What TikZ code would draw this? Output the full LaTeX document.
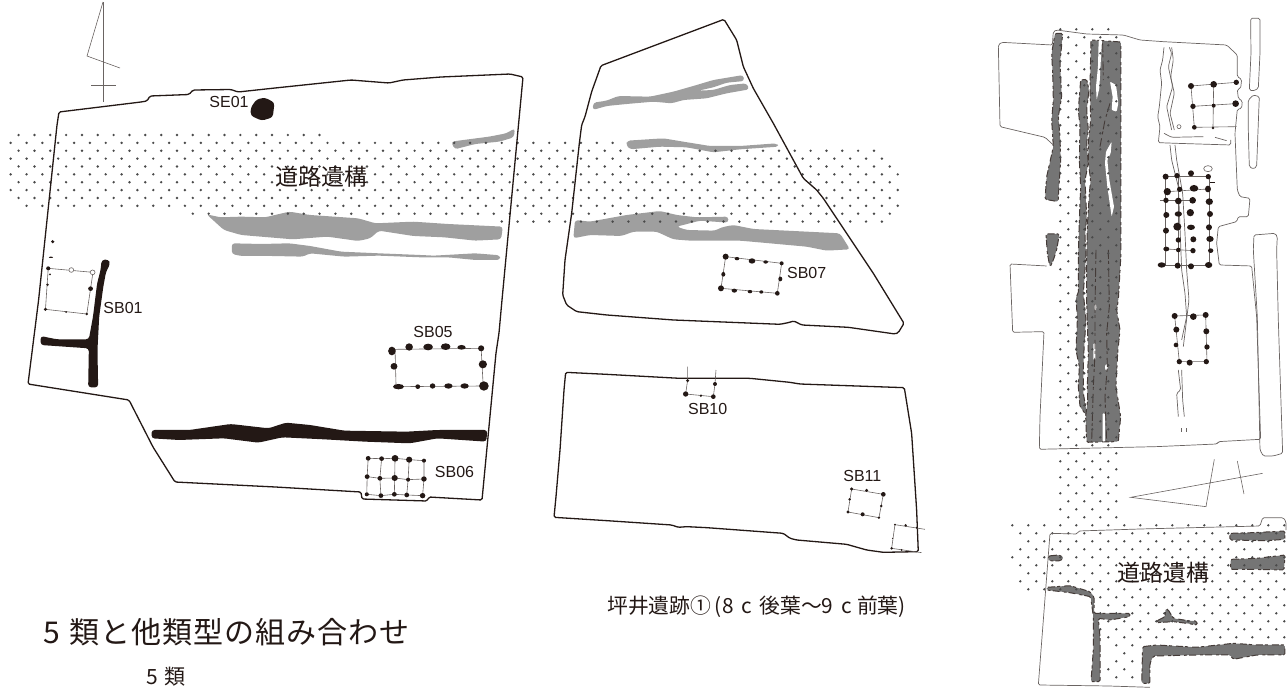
\documentclass[tikz,border=0pt]{standalone}
\usepackage{fontspec}
\setmainfont{Liberation Sans}
\newfontfamily\jpfont{Noto Sans CJK JP}
\newfontfamily\jpwide[LetterSpace=3.3]{Noto Sans CJK JP}
\usepackage{tikz}
\definecolor{ink}{HTML}{231815}
\definecolor{lightditch}{HTML}{9F9F9F}
\definecolor{darkditch}{HTML}{757575}
\definecolor{thinline}{HTML}{6A6462}
\definecolor{dotgrey}{HTML}{4A4A4A}
\tikzset{
    leftplan/.style={shift={(0,#1)},x=0.3444pt,y=-0.3333pt},
    midplan/.style={shift={(540,#1)},x=0.3333pt,y=-0.3333pt},
    rightplan/.style={shift={(990,#1)},x=0.3333pt,y=-0.3333pt},
    outline/.style={draw=ink,line width=1.3pt,rounded corners=1.5pt},
    siteline/.style={draw=thinline,line width=0.7pt,rounded corners=1.5pt},
    frameline/.style={draw=thinline,line width=0.6pt},
    lightstrip/.style={fill=lightditch,rounded corners=3pt},
    blackstrip/.style={fill=ink,rounded corners=3pt},
    darkstrip/.style={fill=darkditch,draw=ink!85,line width=1pt,dash pattern=on 7pt off 2pt on 3pt off 4pt,rounded corners=1.5pt},
    gapstrip/.style={fill=white,rounded corners=1pt},
    edgeline/.style={draw=ink!85,line width=0.9pt,dash pattern=on 9pt off 2pt on 3pt off 4pt},
    hole/.style={fill=ink},
    dotpt/.style={fill=dotgrey},
    siteno/.style={inner sep=0pt,text=ink,font=\fontsize{16}{16}\selectfont},
    roadtext/.style={inner sep=0pt,text=ink,font=\jpfont\fontsize{23}{23}\selectfont},
}
\begin{document}
\begin{tikzpicture}[x=1pt,y=-1pt]
    \useasboundingbox (0,0) rectangle (1288,689);

    % left plan, grey ditches under the dots
    \begin{scope}[leftplan=0]
        \path[lightstrip] (1310,425) -- (1360,418) -- (1420,410) -- (1470,400) -- (1495,385) -- (1492,412) -- (1450,425) -- (1380,432) -- (1320,448) -- cycle;
        \path[lightstrip] (600,643) -- (640,652) -- (700,650) -- (770,652) -- (840,635) -- (900,645) -- (1040,655) -- (1090,670) -- (1200,665) -- (1300,672) -- (1460,680) -- (1455,718) -- (1380,722) -- (1290,712) -- (1200,708) -- (1100,692) -- (1075,715) -- (1040,723) -- (950,710) -- (850,718) -- (700,705) -- (650,690) -- cycle;
        \path[lightstrip] (673,730) -- (760,732) -- (840,730) -- (900,738) -- (990,755) -- (1100,760) -- (1220,765) -- (1260,767) -- (1380,760) -- (1452,766) -- (1452,780) -- (1380,780) -- (1300,772) -- (1220,772) -- (1100,767) -- (1000,770) -- (900,760) -- (880,770) -- (790,768) -- (700,768) -- (673,762) -- cycle;
    \end{scope}
    % middle plan, grey ditches
    \begin{scope}[midplan=30]
        \path[lightstrip] (158,240) -- (160,218) -- (200,212) -- (235,198) -- (330,200) -- (400,185) -- (470,165) -- (520,150) -- (610,135) -- (613,153) -- (560,158) -- (520,172) -- (475,182) -- (520,180) -- (570,165) -- (620,160) -- (628,178) -- (560,190) -- (500,205) -- (430,210) -- (395,220) -- (340,215) -- (260,222) -- (200,228) -- cycle;
        \path[lightstrip] (262,332) -- (370,325) -- (430,335) -- (510,348) -- (600,348) -- (710,340) -- (716,350) -- (600,358) -- (520,367) -- (440,352) -- (360,350) -- (270,358) -- (258,345) -- cycle;
        \path[lightstrip] (105,570) -- (150,575) -- (260,555) -- (360,543) -- (410,555) -- (470,562) -- (565,560) -- (565,578) -- (480,572) -- (410,590) -- (440,600) -- (525,602) -- (545,592) -- (580,585) -- (640,597) -- (900,610) -- (930,658) -- (860,662) -- (800,650) -- (690,640) -- (600,632) -- (450,632) -- (400,628) -- (350,605) -- (280,605) -- (245,618) -- (150,615) -- (100,625) -- cycle;
    \end{scope}

    % road band across the two plans: row / first / last
    \foreach \rowk/\ia/\ib in {0/0/19,1/0/38,2/0/54,3/0/55,4/0/55,5/0/56,6/0/55,7/0/56,8/0/55,9/1/56,10/11/55,11/31/55}{
        \pgfmathsetmacro{\bandx}{ifthenelse(mod(\rowk,2)==0,18.6,10.7)}
        \foreach \i in {\ia,...,\ib}
            \fill[dotpt] ({\bandx+15.84*\i},{135+7.87*\rowk}) circle (1.35pt);
    }

    % right site, dark ditches
    \begin{scope}[rightplan=20]
        \path[darkstrip] (195,40) -- (218,40) -- (210,130) -- (215,230) -- (205,290) -- (210,350) -- (212,420) -- (205,530) -- (205,545) -- (165,538) -- (170,470) -- (190,380) -- (185,300) -- (190,240) -- (188,160) -- (185,100) -- cycle;
        \path[darkstrip] (168,642) -- (208,642) -- (200,690) -- (190,720) -- (180,742) -- (172,700) -- cycle;
        \path[darkstrip] (272,180) -- (290,178) -- (297,210) -- (290,270) -- (295,330) -- (290,370) -- (295,430) -- (285,480) -- (290,590) -- (285,650) -- (288,700) -- (285,750) -- (280,820) -- (288,900) -- (282,990) -- (280,1040) -- (280,1120) -- (292,1190) -- (270,1160) -- (265,1100) -- (268,1040) -- (258,990) -- (262,900) -- (258,830) -- (265,820) -- (265,700) -- (268,600) -- (272,500) -- (268,420) -- (270,320) -- (265,270) -- cycle;
        \path[darkstrip] (303,60) -- (300,200) -- (302,300) -- (295,370) -- (295,430) -- (302,480) -- (298,520) -- (292,620) -- (290,720) -- (290,850) -- (295,1000) -- (292,1100) -- (293,1140) -- (287,1190) -- (290,1267) -- (385,1265) -- (392,1190) -- (378,1100) -- (383,1000) -- (390,930) -- (380,870) -- (385,840) -- (393,700) -- (393,66) -- (338,62) -- cycle;
        \path[gapstrip] (326,60) -- (336,60) -- (332,130) -- (328,205) -- (320,240) -- (318,200) -- (324,140) -- cycle;
        \path[gapstrip] (360,185) -- (378,195) -- (385,250) -- (380,275) -- (365,270) -- (368,230) -- cycle;
        \path[gapstrip] (348,395) -- (365,365) -- (362,400) -- (352,420) -- (358,480) -- (372,560) -- (365,590) -- (352,500) -- (345,430) -- cycle;
        \path[gapstrip] (310,970) -- (316,970) -- (316,1020) -- (310,1020) -- cycle;
        \path[gapstrip] (338,1180) -- (345,1180) -- (345,1265) -- (338,1265) -- cycle;
        \fill[white] (316,862) ellipse [x radius=3,y radius=9];
        \fill[white] (349,1042) ellipse [x radius=4,y radius=9];
        \path[edgeline] (318,690) -- (315,860) -- (315,1000) -- (310,1100) -- (305,1265);
        \path[edgeline] (355,690) -- (358,860) -- (350,940) -- (352,1040) -- (345,1130) -- (350,1265);
        \path[edgeline] (360,250) -- (345,300) -- (330,380);
        \path[edgeline] (338,70) -- (340,180);
    \end{scope}
    % bottom plan of the right site
    \begin{scope}[rightplan=450]
        \path[darkstrip] (720,250) -- (790,248) -- (885,243) -- (885,268) -- (830,272) -- (720,270) -- cycle;
        \path[darkstrip] (722,328) -- (800,325) -- (885,315) -- (882,360) -- (780,358) -- (722,358) -- cycle;
        \path[darkstrip] (175,318) -- (205,315) -- (222,322) -- (210,333) -- (175,332) -- cycle;
        \path[darkstrip] (170,412) -- (240,407) -- (300,425) -- (312,440) -- (312,490) -- (350,490) -- (420,490) -- (420,500) -- (360,510) -- (325,505) -- (330,560) -- (330,695) -- (303,695) -- (310,600) -- (310,500) -- (302,440) -- (240,428) -- (170,420) -- cycle;
        \path[darkstrip] (500,513) -- (525,500) -- (527,475) -- (535,480) -- (550,505) -- (600,513) -- (620,513) -- (622,525) -- (590,520) -- (550,515) -- (500,518) -- cycle;
        \path[darkstrip] (458,590) -- (500,585) -- (620,592) -- (730,580) -- (800,585) -- (885,585) -- (885,615) -- (800,615) -- (730,628) -- (720,615) -- (620,615) -- (490,618) -- (480,640) -- (480,700) -- (455,700) -- cycle;
    \end{scope}

    % road of the right site, column then band
    \foreach \rowk in {0,...,61}{
        \pgfmathsetmacro{\colx}{1012.3+8*mod(\rowk,2)}
        \foreach \i in {3,...,6}
            \fill[dotpt] ({\colx+16*\i},{29.3+8*\rowk}) circle (1.35pt);
    }
    \foreach \rowk/\ia/\ib in {62/0/17,63/0/16,64/1/17,65/0/16,66/0/17,67/0/16,68/1/17,69/0/16,70/1/17,71/5/16,72/6/17,73/5/16,74/6/17,75/5/16,76/6/17,77/6/7,78/7/7,79/6/7,80/6/7,81/6/7}{
        \pgfmathsetmacro{\colx}{1012.3+8*mod(\rowk,2)}
        \foreach \i in {\ia,...,\ib}
            \fill[dotpt] ({\colx+16*\i},{29.3+8*\rowk}) circle (1.35pt);
    }

    % north marks
    \draw[frameline] (103,2) -- (103,102);
    \draw[frameline] (103,2) -- (87,56) -- (120,68);
    \draw[frameline] (91,85) -- (116,85);

    % left plan
    \draw[outline] (59,112) -- (141,102) -- (147,101) -- (150,96) -- (189,94.5) -- (193,90) -- (231,89.5) -- (238,92) -- (275,88) -- (351,80) -- (389,83) -- (403,80) -- (441,77) -- (510,74) -- (523,77) -- (502,300) -- (499,333) -- (496,353) -- (482,500) -- (429,497) -- (427,501) -- (362,499) -- (361,492) -- (275.5,487) -- (175,482) -- (153,447) -- (129,400) -- (28,384) -- (38.6,300) -- (57,125) -- cycle;
    \begin{scope}[leftplan=0]
        \fill[hole,rounded corners=3pt] (745,298) -- (770,293) -- (797,308) -- (792,352) -- (760,362) -- (728,347) -- (728,323) -- cycle;
        \fill[hole] (153,725) circle [radius=5];
        \fill[hole] (148,772) ellipse [x radius=6,y radius=2];
    \end{scope}
    \begin{scope}[leftplan=250]
        \path[blackstrip] (295,30) -- (315,28) -- (320,42) -- (308,65) -- (300,110) -- (288,200) -- (283,300) -- (285,412) -- (256,412) -- (258,295) -- (118,285) -- (118,258) -- (165,268) -- (258,268) -- (270,200) -- (282,100) -- (292,60) -- cycle;
        \path[blackstrip] (440,540) -- (550,540) -- (670,522) -- (780,535) -- (830,518) -- (900,525) -- (1000,542) -- (1180,545) -- (1270,540) -- (1415,540) -- (1412,575) -- (1270,565) -- (1190,580) -- (1060,575) -- (940,568) -- (820,562) -- (750,578) -- (650,565) -- (520,570) -- (440,565) -- cycle;
        % SB01
        \draw[frameline] (140,55) -- (270,67) -- (252,192) -- (132,178) -- cycle;
        \foreach \x/\y/\rad in {140/55/6,263/116/7,252/192/4,192/186/3,132/178/5,138/104/4,145/73/3}
            \fill[hole] (\x,\y) circle [radius=\rad];
        \draw[frameline,fill=white] (207,60) circle [radius=7];
        \draw[frameline,fill=white] (269,67) circle [radius=7];
        % SB05
        \draw[frameline] (1147,298) -- (1397,295) -- (1403,408) -- (1150,410) -- cycle;
        \foreach \x/\y/\rx/\ry in {1138/303/11/13,1188/291/11/11,1243/291/14/10,1294/290/14/10,1340/292/12/7,1397/295/9/9,1402/343/12/12,1405/408/14/14,1349/408/12/8,1302/408/12/8,1256/408/8/8,1213/410/7/7,1157/410/16/8,1144/349/10/10}
            \fill[hole] (\x,\y) ellipse [x radius=\rx,y radius=\ry];
        % SB06
        \draw[frameline] (1069,625) -- (1108,626) -- (1147,625) -- (1188,629) -- (1231,632) -- (1231,687) -- (1227,737) -- (1181,735) -- (1145,733) -- (1106,737) -- (1065,733) -- (1066,680) -- cycle;
        \draw[frameline] (1066,680) -- (1103,685) -- (1146,684) -- (1185,689) -- (1231,687);
        \draw[frameline] (1108,626) -- (1103,685) -- (1106,737);
        \draw[frameline] (1147,625) -- (1146,684) -- (1145,733);
        \draw[frameline] (1188,629) -- (1185,689) -- (1181,735);
        \foreach \x/\y/\rad in {1069/625/7,1108/626/7,1147/625/10,1188/629/9,1231/632/6,1066/680/7,1103/685/7,1146/684/9,1185/689/6,1231/687/8,1065/733/6,1106/737/7,1145/733/7,1181/735/7,1227/737/8}
            \fill[hole] (\x,\y) circle [radius=\rad];
    \end{scope}

    % middle plan, upper part
    \begin{scope}[midplan=30]
        \draw[outline] (183,107) -- (155,185) -- (135,260) -- (125,285) -- (118,340) -- (95,550) -- (75,690) -- (68,795) -- (80,825) -- (110,845) -- (200,855) -- (400,870) -- (720,883) -- (745,878) -- (762,873) -- (785,885) -- (925,892) -- (1065,912) -- (1075,908) -- (1092,880) -- (1000,730) -- (850,505) -- (830,480) -- (790,445) -- (700,280) -- (640,175) -- (610,110) -- (590,30) -- (552,-32) -- cycle;
        \draw[frameline] (557,680) -- (725,700) -- (712,790) -- (543,775) -- cycle;
        \foreach \x/\y/\rx/\ry in {557/680/9/9,591/686/7/5,636/693/10/8,677/696/7/5,725/700/6/6,721/747/6/7,712/790/7/7,664/786/6/5,630/785/7/5,583/782/8/6,543/775/9/9,550/733/6/7}
            \fill[hole] (\x,\y) ellipse [x radius=\rx,y radius=\ry];
    \end{scope}
    % middle plan, lower part
    \begin{scope}[midplan=350]
        \draw[outline] (77,67) -- (200,73) -- (420,85) -- (630,85) -- (750,97) -- (780,102) -- (1093,113) -- (1115,250) -- (1130,480) -- (1135,605) -- (1030,607) -- (980,600) -- (920,583) -- (770,570) -- (750,565) -- (730,550) -- (500,533) -- (440,530) -- (415,532) -- (395,525) -- (200,512) -- (42,502) -- (48,440) -- (60,300) -- (72,120) -- cycle;
        % SB10
        \draw[frameline] (443,50) -- (443,90) -- (437,132) -- (520,140) -- (525,102) -- (528,60);
        \foreach \x/\y/\rad in {443/92/5,525/102/6,437/132/8,483/137/4,520/140/7}
            \fill[hole] (\x,\y) circle [radius=\rad];
        % SB11
        \draw[frameline] (935,417) -- (1030,433) -- (1017,503) -- (924,486) -- cycle;
        \foreach \x/\y/\rad in {935/417/5,980/421/5,1030/433/7,1024/468/4,1017/503/4,968/493/6,924/486/5,929/448/4}
            \fill[hole] (\x,\y) circle [radius=\rad];
        % corner building
        \draw[frameline] (1155,538) -- (1065,524) -- (1055,595) -- (1145,608);
        \foreach \x/\y/\rad in {1065/524/3,1097/526/4,1130/533/3,1058/565/2,1055/595/4,1085/600/3}
            \fill[hole] (\x,\y) circle [radius=\rad];
    \end{scope}

    % right site, lines and posts
    \begin{scope}[rightplan=20]
        \draw[siteline] (170,738) -- (60,732) -- (68,937) -- (162,935) -- (150,1190) -- (148,1288) -- (500,1280) -- (682,1272) -- (685,1265) -- (812,1258) -- (800,890) -- (785,738) -- (688,735) -- (680,670) -- (685,620) -- (740,605) -- (745,590) -- (775,590) -- (780,535) -- (750,530) -- (742,510) -- (735,340) -- (742,268) -- (755,265) -- (757,243) -- (745,235) -- (742,208) -- (752,205) -- (755,178) -- (742,170) -- (742,105) -- (710,75) -- (520,65) -- (450,60) -- (400,45) -- (290,42) -- (200,30) -- (190,35) -- (187,75) -- (35,67) -- (25,75) -- (30,320) -- (165,352) -- (190,375);
        \draw[siteline] (782,-5) -- (810,-5) -- (810,100) -- (805,205) -- (790,213) -- (778,210) -- (783,100) -- cycle;
        \draw[siteline] (775,240) -- (790,225) -- (808,230) -- (800,440) -- (790,447) -- (778,440) -- (775,330) -- cycle;
        \draw[siteline] (792,645) -- (855,640) -- (862,650) -- (860,690) -- (865,900) -- (878,1300) -- (850,1308) -- (820,1308) -- (810,1290) -- (802,890) -- (790,690) -- cycle;
        % ditch lines
        \draw[siteline] (522,82) -- (518,120) -- (510,150) -- (515,190) -- (508,260) -- (503,290) -- (510,320) -- (505,368) -- (560,370) -- (722,375) -- (722,360);
        \draw[siteline] (538,82) -- (545,100) -- (535,140) -- (548,200) -- (530,260) -- (545,330);
        \draw[siteline] (545,82) -- (550,120) -- (542,170) -- (553,220) -- (540,280) -- (553,330);
        \draw[siteline] (522,340) -- (545,352) -- (640,350);
        \draw[siteline] (675,352) -- (710,362);
        \draw[siteline] (540,375) -- (545,420) -- (565,500) -- (570,620) -- (575,750) -- (585,820) -- (590,890) -- (575,960);
        \draw[siteline] (555,375) -- (560,420) -- (578,520) -- (585,640) -- (590,750) -- (597,840) -- (580,980);
        \draw[siteline] (565,1050) -- (572,1110) -- (560,1120) -- (565,1190);
        \draw[siteline] (575,1050) -- (578,1140) -- (583,1190);
        \draw[siteline] (575,1225) -- (575,1235);
        \draw[siteline] (590,1225) -- (590,1235);
        \draw[frameline] (567,320) circle [radius=6];
        \draw[frameline] (654,446) ellipse [x radius=13,y radius=9];
        \draw[ink,line width=0.7pt] (660,487) -- (675,487);
        % upper posts
        \draw[frameline] (603,198) -- (739,187);
        \draw[frameline] (609,259) -- (737,251);
        \draw[frameline] (613,322) -- (740,320);
        \draw[frameline] (603,198) -- (613,322);
        \draw[frameline] (671,193) -- (669,324);
        \foreach \x/\y/\rad in {603/198/9,671/193/10,739/187/8,609/259/8,671/257/6,737/251/10,613/322/7,669/324/4}
            \fill[hole] (\x,\y) circle [radius=\rad];
        % middle posts
        \draw[frameline] (527,470) -- (655,470);
        \draw[frameline] (532,515) -- (654,507);
        \draw[frameline] (510,541) -- (610,541);
        \draw[frameline] (529,687) -- (609,692);
        \draw[frameline] (525,735) -- (656,735);
        \draw[frameline] (526,470) -- (526,735);
        \draw[frameline] (657,470) -- (657,735);
        \draw[frameline] (565,470) -- (565,735);
        \foreach \x/\y/\rx/\ry in {527/470/9/9,561/467/8/8,603/460/9/9,655/470/8/8,532/515/11/11,569/508/8/8,612/505/13/10,654/507/9/10,528/541/8/8,565/543/10/10,608/541/10/10,658/545/11/10,529/585/9/9,565/582/11/8,601/578/11/11,660/582/9/9,528/632/9/9,562/620/12/12,603/622/12/8,657/622/9/9,565/660/8/8,610/658/9/9,660/657/11/9,529/687/9/7,565/690/7/7,609/692/8/8,662/692/8/7,515/735/12/8,563/737/9/9,603/739/9/9,656/735/11/9}
            \fill[hole] (\x,\y) ellipse [x radius=\rx,y radius=\ry];
        % lower posts
        \draw[frameline] (554,888) -- (647,885) -- (651,1025) -- (568,1025) -- cycle;
        \foreach \x/\y/\rad in {554/888/9,610/890/10,647/885/9,559/929/9,649/934/9,558/975/7,651/981/8,568/1025/8,599/1028/9,649/1025/8}
            \fill[hole] (\x,\y) circle [radius=\rad];
    \end{scope}
    \begin{scope}[rightplan=450]
        \draw[siteline] (480,712) -- (355,708) -- (145,705) -- (180,250) -- (262,252) -- (265,243) -- (450,237) -- (810,228) -- (818,203) -- (880,203) -- (888,215) -- (888,240);
        % north mark
        \draw[frameline] (818,70) -- (422,142) -- (648,170) -- (673,28);
        \draw[frameline] (742,33) -- (762,132);
    \end{scope}

    % labels
    \node[siteno] (se01) at (229,102) {SE01};
    \node[siteno] (sb01) at (123,308) {SB01};
    \node[siteno] (sb05) at (433,332) {SB05};
    \node[siteno] (sb06) at (454.5,472) {SB06};
    \node[siteno] (sb07) at (806.7,273) {SB07};
    \node[siteno] (sb10) at (707.7,409) {SB10};
    \node[siteno] (sb11) at (862.3,476) {SB11};
    \node[roadtext] (roadleft) at (321,177) {道路遺構};
    \node[roadtext] (roadright) at (1163.3,572.7) {道路遺構};
    \node[inner sep=0pt,text=ink,font=\jpfont\fontsize{20.8}{21}\selectfont] (sitename) at (756.5,607) {坪井遺跡①\hspace{3pt}(\hspace{1pt}8\hspace{8pt}c\hspace{7pt}後葉〜9\hspace{8pt}c\hspace{5pt}前葉)};
    \node[inner sep=0pt,text=ink,font=\jpwide\fontsize{30}{31}\selectfont] (grouptitle) at (226.5,632) {5\hspace{10pt}類と他類型の組み合わせ};
    \node[inner sep=0pt,text=ink,font=\jpfont\fontsize{21}{21}\selectfont] (groupname) at (166,677) {5\hspace{6pt}類};
\end{tikzpicture}
\end{document}
